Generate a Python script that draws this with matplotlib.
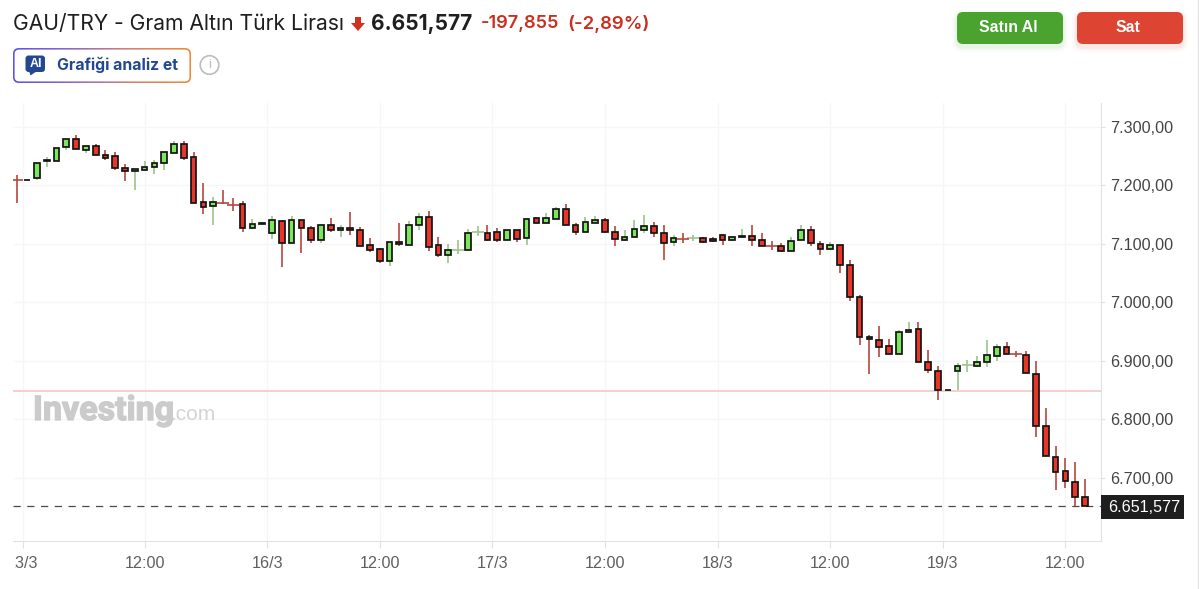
import numpy as np
import matplotlib
matplotlib.use('Agg')
import matplotlib.pyplot as plt
import matplotlib.patheffects as pe
from matplotlib.colors import LinearSegmentedColormap
from matplotlib.patches import FancyBboxPatch, Polygon, Rectangle, Circle
from matplotlib.transforms import Bbox

RED_BODY = '#e8352a'
GREEN_BODY = '#7be85c'
RED_WICK = '#b4483e'
GREEN_WICK = '#9dc38c'
GRID = '#f6f6f8'
BORDER = '#e1e1e8'
LABEL = '#444444'

opens = [7210, 7209, 7213, 7241, 7241, 7265, 7280, 7260, 7268, 7252,
         7250, 7230, 7225, 7226, 7231, 7238, 7256, 7271, 7248, 7171,
         7165, 7171, 7169, 7168, 7127, 7134, 7118, 7139, 7102, 7141,
         7127, 7107, 7132, 7123, 7128, 7123, 7098, 7091, 7070, 7103,
         7099, 7132, 7146, 7098, 7081, 7088, 7090, 7120, 7118, 7120,
         7107, 7123, 7110, 7144, 7136, 7143, 7160, 7132, 7120, 7136,
         7141, 7121, 7106, 7111, 7123, 7130, 7119, 7104, 7110, 7109,
         7110, 7108, 7116, 7106, 7111, 7114, 7107, 7097, 7096, 7088,
         7107, 7123, 7100, 7091, 7098, 7064, 7009, 6941, 6935, 6926,
         6912, 6949, 6954, 6898, 6883, 6851, 6882, 6892, 6891, 6898,
         6909, 6924, 6913, 6910, 6878, 6789, 6736, 6711, 6693, 6667]
closes = [7209, 7209, 7239, 7244, 7264, 7280, 7263, 7268, 7252, 7247,
          7229, 7224, 7228, 7232, 7239, 7257, 7271, 7247, 7170, 7163,
          7171, 7170, 7167, 7127, 7134, 7135, 7141, 7102, 7141, 7127,
          7107, 7132, 7123, 7128, 7123, 7097, 7090, 7070, 7103, 7100,
          7132, 7146, 7095, 7081, 7089, 7090, 7118, 7121, 7107, 7107,
          7123, 7108, 7143, 7136, 7144, 7160, 7132, 7120, 7137, 7141,
          7120, 7109, 7112, 7125, 7130, 7118, 7102, 7110, 7109, 7110,
          7104, 7105, 7107, 7112, 7114, 7106, 7097, 7096, 7088, 7105,
          7123, 7102, 7091, 7098, 7064, 7010, 6940, 6938, 6923, 6912,
          6949, 6953, 6898, 6885, 6850, 6850, 6891, 6893, 6898, 6910,
          6924, 6912, 6911, 6880, 6789, 6738, 6710, 6694, 6667, 6652]
highs = [7218, 7210, 7239, 7248, 7264, 7280, 7287, 7269, 7271, 7261,
         7257, 7237, 7228, 7242, 7244, 7258, 7276, 7276, 7258, 7205,
         7180, 7193, 7178, 7173, 7142, 7135, 7148, 7141, 7148, 7141,
         7131, 7133, 7144, 7132, 7155, 7129, 7110, 7093, 7104, 7136,
         7139, 7153, 7157, 7112, 7100, 7107, 7125, 7130, 7132, 7128,
         7124, 7124, 7144, 7146, 7153, 7164, 7169, 7135, 7146, 7148,
         7144, 7130, 7123, 7141, 7150, 7137, 7132, 7116, 7119, 7116,
         7111, 7112, 7117, 7114, 7126, 7132, 7119, 7105, 7101, 7112,
         7132, 7130, 7105, 7103, 7098, 7073, 7013, 6945, 6959, 6938,
         6953, 6966, 6966, 6918, 6891, 6851, 6897, 6902, 6909, 6936,
         6929, 6933, 6917, 6917, 6899, 6819, 6754, 6734, 6727, 6698]
lows = [7170, 7208, 7210, 7231, 7241, 7260, 7263, 7256, 7252, 7244,
        7226, 7208, 7192, 7225, 7220, 7226, 7256, 7243, 7170, 7152,
        7133, 7168, 7156, 7120, 7125, 7134, 7108, 7060, 7102, 7084,
        7102, 7102, 7121, 7111, 7115, 7096, 7086, 7068, 7062, 7097,
        7098, 7124, 7088, 7077, 7068, 7082, 7088, 7113, 7105, 7104,
        7106, 7104, 7099, 7135, 7136, 7143, 7132, 7115, 7120, 7135,
        7119, 7097, 7105, 7110, 7118, 7112, 7072, 7097, 7102, 7105,
        7102, 7104, 7099, 7105, 7110, 7097, 7097, 7089, 7086, 7088,
        7106, 7097, 7081, 7090, 7051, 7003, 6927, 6877, 6907, 6912,
        6912, 6948, 6898, 6879, 6833, 6850, 6850, 6881, 6890, 6889,
        6900, 6911, 6907, 6880, 6769, 6738, 6680, 6683, 6651, 6651]

y_ticks = [7300, 7200, 7100, 7000, 6900, 6800, 6700]
y_labels = ['7.300,00', '7.200,00', '7.100,00', '7.000,00', '6.900,00', '6.800,00', '6.700,00']
x_ticks = [0.55, 13, 25.5, 37, 48.5, 60, 71.5, 83, 94.5, 107]
x_labels = ['13/3', '12:00', '16/3', '12:00', '17/3', '12:00', '18/3', '12:00', '19/3', '12:00']
prev_close = 6849
last_price = 6651.577

W, H = 1199, 589
plt.rcParams['font.family'] = ['Liberation Sans', 'DejaVu Sans']
fig = plt.figure(figsize=(W / 100, H / 100), dpi=100, facecolor='white')

# Price panel, placed by pixel edges
ax = fig.add_axes([13 / W, (H - 541) / H, 1088 / W, 438 / H])
ax.set_xlim(-0.44, 110.64)
ax.set_ylim(6592, 7341)
ax.set_xticks(x_ticks, x_labels)
ax.set_yticks(y_ticks, y_labels)
ax.yaxis.tick_right()
ax.grid(True, color=GRID, lw=1)
ax.set_axisbelow(True)
ax.tick_params(axis='x', length=5, width=0.8, color=BORDER, labelsize=11.6, labelcolor='#5f5f5f', pad=6)
ax.tick_params(axis='y', length=3, width=0.8, color=BORDER, labelsize=11.6, labelcolor=LABEL, pad=3.5)
for side in ['top', 'left']:
    ax.spines[side].set_visible(False)
for side in ['right', 'bottom']:
    ax.spines[side].set_color(BORDER)

# First label is cut off by the panel edge in the source
first = ax.get_xticklabels()[0]
first.set_clip_box(Bbox([[15, 0], [120, H]]))
first.set_clip_on(True)

ax.axhline(prev_close, color='#f5cdc9', lw=1.3, zorder=1)
ax.axhline(last_price, color='#4a4a4a', lw=0.9, dashes=(5.8, 5.2), zorder=1)

idx = np.arange(len(opens))
op = np.array(opens, dtype=float)
cl = np.array(closes, dtype=float)
hi = np.array(highs, dtype=float)
lo = np.array(lows, dtype=float)
up = cl >= op
# Near-flat candles with a wick read as a thin cross in the wick colour
cross = (np.abs(cl - op) <= 2) & (hi - lo > 5)

ax.vlines(idx[up], lo[up], hi[up], color=GREEN_WICK, lw=1.2, zorder=2)
ax.vlines(idx[~up], lo[~up], hi[~up], color=RED_WICK, lw=1.2, zorder=2)
ax.hlines(cl[cross & up], idx[cross & up] - 0.6, idx[cross & up] + 0.6, color=GREEN_WICK, lw=1.2, zorder=2)
ax.hlines(cl[cross & ~up], idx[cross & ~up] - 0.6, idx[cross & ~up] + 0.6, color=RED_WICK, lw=1.2, zorder=2)

solid = ~cross
ax.bar(idx[solid], np.abs(cl - op)[solid], bottom=np.minimum(op, cl)[solid], width=0.58,
       color=[GREEN_BODY if u else RED_BODY for u in up[solid]],
       edgecolor='#141414', linewidth=1.25, zorder=3)

# Header, buttons and labels sit on a full-figure pixel layer
ui = fig.add_axes([0, 0, 1, 1], zorder=5)
ui.patch.set_visible(False)
ui.set_axis_off()
ui.set_xlim(0, W)
ui.set_ylim(H, 0)


def rounded(x0, y0, x1, y1, radius, **kw):
    patch = FancyBboxPatch((x0 + radius, y0 + radius), x1 - x0 - 2 * radius, y1 - y0 - 2 * radius,
                           boxstyle=f'round,pad={radius},rounding_size={radius}', **kw)
    ui.add_patch(patch)
    return patch


ui.text(13, 24, 'GAU/TRY - Gram Altın Türk Lirası', family='Inter', fontsize=15.2, color='#1f1f1f', va='center')
ui.add_patch(Polygon([(355, 17), (361, 17), (361, 23), (365, 23), (358, 31), (351, 23), (355, 23)],
                     closed=True, color='#d0301f', lw=0))
ui.text(370.5, 24, '6.651,577', family='Inter', fontsize=15, fontweight='bold', color='#1f1f1f', va='center')
ui.text(481, 24, '-197,855', family='Inter', fontsize=13.1, fontweight='semibold', color='#c9301f', va='center')
ui.text(567, 24, '(-2,89%)', family='Inter', fontsize=13.4, fontweight='semibold', color='#c9301f', va='center')

# Buy / sell buttons with a soft glow
for x0, x1, color, label in [(957, 1063, '#4aa32e', 'Satın Al'), (1077, 1183, '#dd4532', 'Sat')]:
    for grow, alpha in [(5, 0.03), (3, 0.04), (1.5, 0.05)]:
        rounded(x0 - grow, 12 - grow + 3, x1 + grow, 44 + grow + 3, 6 + grow, fc=color, ec='none', alpha=alpha)
    rounded(x0, 12, x1, 44, 6, fc=color, ec='none')
    ui.text((x0 + x1) / 2 - 2, 28, label, fontsize=11.4, fontweight='bold', color='white', ha='center', va='center')

# AI button: gradient border made from an image clipped to the outer shape
border_map = LinearSegmentedColormap.from_list('border', ['#5a55e6', '#8f68c8', '#d88270', '#f08a3c'])
image = ui.imshow(np.linspace(0, 1, 200).reshape(1, -1), extent=(13, 191, 83, 48), cmap=border_map, aspect='auto', zorder=1)
image.set_clip_path(rounded(13, 48, 191, 83, 6, fc='none', ec='none'))
rounded(14.6, 49.6, 189.4, 81.4, 4.6, fc='white', ec='none', zorder=2)
ui.set_xlim(0, W)
ui.set_ylim(H, 0)
rounded(25.5, 55.5, 45, 72, 3, fc='#24488f', ec='none', zorder=3)
ui.add_patch(Polygon([(29, 71), (37, 71), (30.5, 75.5)], closed=True, color='#24488f', lw=0, zorder=3))
ui.text(35.5, 64, 'AI', fontsize=9, fontweight='bold', color='white', ha='center', va='center', zorder=4)
ui.text(57, 64.5, 'Grafiği analiz et', family='Inter', fontsize=11.4, fontweight='bold', color='#24488f', va='center', zorder=3)
ui.add_patch(Circle((209.5, 65), 9.3, fc='white', ec='#bdbdbd', lw=1.2))
ui.text(209.5, 65, 'i', fontsize=9.5, color='#bdbdbd', ha='center', va='center')

# Watermark
ui.text(33, 411, 'Investing', family='Roboto', fontsize=24.5, fontweight='bold', color='#cbcbcb', va='center',
        path_effects=[pe.withStroke(linewidth=1, foreground='#cbcbcb')])
ui.text(170, 414.5, '.com', fontsize=15, color='#d4d4d4', va='center')

# Last price tag
ui.add_patch(Rectangle((1101, 495), 83, 24, fc='#1e1e1e', ec='none'))
ui.text(1108.5, 507.5, '6.651,577', fontsize=11.6, color='white', va='center')

# Page edge
ui.plot([1198, 1198], [0, H], color='#e4e4e4', lw=1)

fig.savefig('out.png', dpi=100, facecolor='white')
